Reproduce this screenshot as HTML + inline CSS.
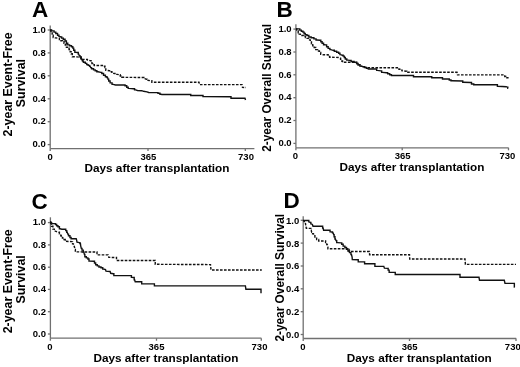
<!DOCTYPE html>
<html><head><meta charset="utf-8"><style>
html,body{margin:0;padding:0;background:#fff;}
svg{display:block;filter:grayscale(1);}
text{font-family:"Liberation Sans",sans-serif;font-weight:bold;fill:#000;}
</style></head><body>
<svg width="520" height="367" viewBox="0 0 520 367">
<rect width="520" height="367" fill="#fff"/>
<line x1="50.2" y1="25.5" x2="50.2" y2="148.6" stroke="#707070" stroke-width="1.3"/>
<line x1="50.2" y1="148.6" x2="254.4" y2="148.6" stroke="#707070" stroke-width="1.3"/>
<line x1="47.7" y1="144.6" x2="50.2" y2="144.6" stroke="#707070" stroke-width="1.3"/>
<text x="45.8" y="147.3" font-size="9.5" text-anchor="end">0.0</text>
<line x1="47.7" y1="121.7" x2="50.2" y2="121.7" stroke="#707070" stroke-width="1.3"/>
<text x="45.8" y="124.4" font-size="9.5" text-anchor="end">0.2</text>
<line x1="47.7" y1="98.8" x2="50.2" y2="98.8" stroke="#707070" stroke-width="1.3"/>
<text x="45.8" y="101.5" font-size="9.5" text-anchor="end">0.4</text>
<line x1="47.7" y1="75.8" x2="50.2" y2="75.8" stroke="#707070" stroke-width="1.3"/>
<text x="45.8" y="78.6" font-size="9.5" text-anchor="end">0.6</text>
<line x1="47.7" y1="52.9" x2="50.2" y2="52.9" stroke="#707070" stroke-width="1.3"/>
<text x="45.8" y="55.7" font-size="9.5" text-anchor="end">0.8</text>
<line x1="47.7" y1="30.0" x2="50.2" y2="30.0" stroke="#707070" stroke-width="1.3"/>
<text x="45.8" y="32.8" font-size="9.5" text-anchor="end">1.0</text>
<line x1="50.2" y1="148.6" x2="50.2" y2="151.1" stroke="#707070" stroke-width="1.3"/>
<text x="50.1" y="159.5" font-size="9.5" text-anchor="middle">0</text>
<line x1="148.0" y1="148.6" x2="148.0" y2="151.1" stroke="#707070" stroke-width="1.3"/>
<text x="148.4" y="159.5" font-size="9.5" text-anchor="middle">365</text>
<line x1="245.3" y1="148.6" x2="245.3" y2="151.1" stroke="#707070" stroke-width="1.3"/>
<text x="246.0" y="159.5" font-size="9.5" text-anchor="middle">730</text>
<line x1="295.9" y1="24.3" x2="295.9" y2="147.8" stroke="#707070" stroke-width="1.3"/>
<line x1="295.9" y1="147.8" x2="508.6" y2="147.8" stroke="#707070" stroke-width="1.3"/>
<line x1="293.4" y1="143.4" x2="295.9" y2="143.4" stroke="#707070" stroke-width="1.3"/>
<text x="291.6" y="146.2" font-size="9.5" text-anchor="end">0.0</text>
<line x1="293.4" y1="120.5" x2="295.9" y2="120.5" stroke="#707070" stroke-width="1.3"/>
<text x="291.6" y="123.3" font-size="9.5" text-anchor="end">0.2</text>
<line x1="293.4" y1="97.7" x2="295.9" y2="97.7" stroke="#707070" stroke-width="1.3"/>
<text x="291.6" y="100.4" font-size="9.5" text-anchor="end">0.4</text>
<line x1="293.4" y1="74.8" x2="295.9" y2="74.8" stroke="#707070" stroke-width="1.3"/>
<text x="291.6" y="77.6" font-size="9.5" text-anchor="end">0.6</text>
<line x1="293.4" y1="52.0" x2="295.9" y2="52.0" stroke="#707070" stroke-width="1.3"/>
<text x="291.6" y="54.7" font-size="9.5" text-anchor="end">0.8</text>
<line x1="293.4" y1="29.1" x2="295.9" y2="29.1" stroke="#707070" stroke-width="1.3"/>
<text x="291.6" y="31.9" font-size="9.5" text-anchor="end">1.0</text>
<line x1="295.9" y1="147.8" x2="295.9" y2="150.3" stroke="#707070" stroke-width="1.3"/>
<text x="295.5" y="158.6" font-size="9.5" text-anchor="middle">0</text>
<line x1="402.2" y1="147.8" x2="402.2" y2="150.3" stroke="#707070" stroke-width="1.3"/>
<text x="402.7" y="158.6" font-size="9.5" text-anchor="middle">365</text>
<line x1="508.5" y1="147.8" x2="508.5" y2="150.3" stroke="#707070" stroke-width="1.3"/>
<text x="507.4" y="158.6" font-size="9.5" text-anchor="middle">730</text>
<line x1="50.4" y1="217.3" x2="50.4" y2="338.2" stroke="#707070" stroke-width="1.3"/>
<line x1="50.4" y1="338.2" x2="261.4" y2="338.2" stroke="#707070" stroke-width="1.3"/>
<line x1="47.9" y1="334.0" x2="50.4" y2="334.0" stroke="#707070" stroke-width="1.3"/>
<text x="46.0" y="336.8" font-size="9.5" text-anchor="end">0.0</text>
<line x1="47.9" y1="311.7" x2="50.4" y2="311.7" stroke="#707070" stroke-width="1.3"/>
<text x="46.0" y="314.5" font-size="9.5" text-anchor="end">0.2</text>
<line x1="47.9" y1="289.4" x2="50.4" y2="289.4" stroke="#707070" stroke-width="1.3"/>
<text x="46.0" y="292.2" font-size="9.5" text-anchor="end">0.4</text>
<line x1="47.9" y1="267.2" x2="50.4" y2="267.2" stroke="#707070" stroke-width="1.3"/>
<text x="46.0" y="269.9" font-size="9.5" text-anchor="end">0.6</text>
<line x1="47.9" y1="244.9" x2="50.4" y2="244.9" stroke="#707070" stroke-width="1.3"/>
<text x="46.0" y="247.6" font-size="9.5" text-anchor="end">0.8</text>
<line x1="47.9" y1="222.6" x2="50.4" y2="222.6" stroke="#707070" stroke-width="1.3"/>
<text x="46.0" y="225.3" font-size="9.5" text-anchor="end">1.0</text>
<line x1="50.4" y1="338.2" x2="50.4" y2="340.7" stroke="#707070" stroke-width="1.3"/>
<text x="49.8" y="350.1" font-size="9.5" text-anchor="middle">0</text>
<line x1="156.5" y1="338.2" x2="156.5" y2="340.7" stroke="#707070" stroke-width="1.3"/>
<text x="156.5" y="350.1" font-size="9.5" text-anchor="middle">365</text>
<line x1="261.3" y1="338.2" x2="261.3" y2="340.7" stroke="#707070" stroke-width="1.3"/>
<text x="259.5" y="350.1" font-size="9.5" text-anchor="middle">730</text>
<line x1="303.2" y1="216.3" x2="303.2" y2="338.5" stroke="#707070" stroke-width="1.3"/>
<line x1="303.2" y1="338.5" x2="516.2" y2="338.5" stroke="#707070" stroke-width="1.3"/>
<line x1="300.7" y1="334.5" x2="303.2" y2="334.5" stroke="#707070" stroke-width="1.3"/>
<text x="299.3" y="337.9" font-size="9.5" text-anchor="end">0.0</text>
<line x1="300.7" y1="311.7" x2="303.2" y2="311.7" stroke="#707070" stroke-width="1.3"/>
<text x="299.3" y="315.0" font-size="9.5" text-anchor="end">0.2</text>
<line x1="300.7" y1="288.8" x2="303.2" y2="288.8" stroke="#707070" stroke-width="1.3"/>
<text x="299.3" y="292.2" font-size="9.5" text-anchor="end">0.4</text>
<line x1="300.7" y1="266.0" x2="303.2" y2="266.0" stroke="#707070" stroke-width="1.3"/>
<text x="299.3" y="269.3" font-size="9.5" text-anchor="end">0.6</text>
<line x1="300.7" y1="243.1" x2="303.2" y2="243.1" stroke="#707070" stroke-width="1.3"/>
<text x="299.3" y="246.5" font-size="9.5" text-anchor="end">0.8</text>
<line x1="300.7" y1="220.3" x2="303.2" y2="220.3" stroke="#707070" stroke-width="1.3"/>
<text x="299.3" y="223.7" font-size="9.5" text-anchor="end">1.0</text>
<line x1="303.2" y1="338.5" x2="303.2" y2="341.0" stroke="#707070" stroke-width="1.3"/>
<text x="303.0" y="349.9" font-size="9.5" text-anchor="middle">0</text>
<line x1="409.5" y1="338.5" x2="409.5" y2="341.0" stroke="#707070" stroke-width="1.3"/>
<text x="409.6" y="349.9" font-size="9.5" text-anchor="middle">365</text>
<line x1="516.0" y1="338.5" x2="516.0" y2="341.0" stroke="#707070" stroke-width="1.3"/>
<text x="512.8" y="349.9" font-size="9.5" text-anchor="middle">730</text>
<text x="32.1" y="17.2" font-size="22.5" text-anchor="start">A</text>
<text x="276.4" y="17.2" font-size="22.5" text-anchor="start">B</text>
<text x="31.4" y="208.6" font-size="22.5" text-anchor="start">C</text>
<text x="283.4" y="208.3" font-size="22.5" text-anchor="start">D</text>
<text x="157.0" y="171.8" font-size="11.75" text-anchor="middle">Days after transplantation</text>
<text x="411.9" y="170.9" font-size="11.75" text-anchor="middle">Days after transplantation</text>
<text x="165.9" y="362.2" font-size="11.75" text-anchor="middle">Days after transplantation</text>
<text x="419.3" y="361.9" font-size="11.75" text-anchor="middle">Days after transplantation</text>
<text transform="translate(11.5 136.4) rotate(-90)" font-size="12.4">2-year Event-Free</text>
<text transform="translate(24.9 107.2) rotate(-90)" font-size="12.4">Survival</text>
<text transform="translate(11.5 333.3) rotate(-90)" font-size="12.4">2-year Event-Free</text>
<text transform="translate(24.9 303.5) rotate(-90)" font-size="12.4">Survival</text>
<text transform="translate(271.3 151.8) rotate(-90)" font-size="11.85">2-year Overall Survival</text>
<text transform="translate(283.6 341.6) rotate(-90)" font-size="11.85">2-year Overall Survival</text>
<path d="M50.0 30.0 L51.60 30.00 L51.60 30.90 L53.20 30.90 L54.05 30.90 L54.05 32.10 L54.90 32.10 L55.80 32.10 L55.80 33.50 L56.70 33.50 L57.55 33.50 L57.55 35.20 L58.40 35.20 L58.95 35.20 L58.95 36.40 L59.50 36.40 L61.0 37.0 L61.70 37.00 L61.70 38.10 L62.40 38.10 L63.30 38.10 L63.30 39.30 L64.20 39.30 L65.05 39.30 L65.05 41.00 L65.90 41.00 L66.40 41.00 L66.40 43.30 L66.90 43.30 L67.75 43.30 L67.75 44.90 L68.60 44.90 L69.60 44.90 L69.60 45.80 L70.60 45.80 L71.50 45.80 L71.50 46.70 L72.40 46.70 L72.80 46.70 L72.80 48.10 L73.20 48.10 L73.70 48.10 L73.70 50.30 L74.20 50.30 L74.85 50.30 L74.85 52.20 L75.50 52.20 L77.8 52.5 L78.25 52.50 L78.25 54.10 L78.70 54.10 L79.3 55.7 L80.00 55.70 L80.00 57.00 L80.70 57.00 L81.25 57.00 L81.25 59.00 L81.80 59.00 L82.4 61.0 L83.40 61.00 L83.40 62.20 L84.40 62.20 L85.30 62.20 L85.30 63.40 L86.20 63.40 L86.75 63.40 L86.75 64.60 L87.30 64.60 L88.15 64.60 L88.15 65.40 L89.00 65.40 L89.55 65.40 L89.55 66.30 L90.10 66.30 L90.7 67.6 L91.55 67.60 L91.55 68.80 L92.40 68.80 L93.55 68.80 L93.55 69.90 L94.70 69.90 L95.20 69.90 L95.20 70.70 L95.70 70.70 L96.85 70.70 L96.85 71.80 L98.00 71.80 L100.9 72.4 L101.80 72.40 L101.80 73.50 L102.70 73.50 L103.55 73.50 L103.55 75.30 L104.40 75.30 L105.40 75.30 L105.40 76.70 L106.40 76.70 L107.00 76.70 L107.00 77.60 L107.60 77.60 L108.1 79.3 L108.70 79.30 L108.70 81.00 L109.30 81.00 L110.10 81.00 L110.10 82.90 L110.90 82.90 L112.05 82.90 L112.05 84.40 L113.20 84.40 L115.5 85.0 L124.2 85.0 L125.05 85.00 L125.05 85.80 L125.90 85.80 L126.75 85.80 L126.75 87.30 L127.60 87.30 L128.20 87.30 L128.20 88.40 L128.80 88.40 L133.4 88.7 L134.55 88.70 L134.55 89.90 L135.70 89.90 L137.4 90.5 L141.8 90.7 L143.5 91.3 L147.0 91.9 L148.7 92.5 L156.8 92.6 L157.95 92.60 L157.95 93.30 L159.10 93.30 L159.95 93.30 L159.95 94.20 L160.80 94.20 L162.0 94.5 L190.0 94.5 L190.75 94.50 L190.75 95.50 L191.50 95.50 L202.0 95.5 L203.00 95.50 L203.00 96.60 L204.00 96.60 L230.5 96.8 L231.00 96.80 L231.00 98.20 L231.50 98.20 L245.0 98.2 L245.5 100.0" fill="none" stroke="#111" stroke-width="1.4"/>
<path d="M50.0 30.3 L50.90 30.30 L50.90 32.90 L51.80 32.90 L52.20 32.90 L52.20 35.20 L52.60 35.20 L53.20 35.20 L53.20 37.50 L53.80 37.50 L54.9 37.8 L57.5 38.1 L58.7 38.2 L59.40 38.20 L59.40 39.60 L60.10 39.60 L60.95 39.60 L60.95 40.70 L61.80 40.70 L62.55 40.70 L62.55 41.60 L63.30 41.60 L64.00 41.60 L64.00 43.30 L64.70 43.30 L65.30 43.30 L65.30 45.00 L65.90 45.00 L66.40 45.00 L66.40 47.20 L66.90 47.20 L67.60 47.20 L67.60 48.10 L68.30 48.10 L69.05 48.10 L69.05 49.50 L69.80 49.50 L70.20 49.50 L70.20 51.80 L70.60 51.80 L71.15 51.80 L71.15 53.80 L71.70 53.80 L72.30 53.80 L72.30 56.70 L72.90 56.70 L76.9 56.9 L80.1 57.2 L80.80 57.20 L80.80 58.50 L81.50 58.50 L82.40 58.50 L82.40 59.40 L83.30 59.40 L86.2 59.4 L87.40 59.40 L87.40 60.10 L88.60 60.10 L90.5 60.8 L91.05 60.80 L91.05 61.80 L91.60 61.80 L91.95 61.80 L91.95 63.60 L92.30 63.60 L92.80 63.60 L92.80 64.70 L93.30 64.70 L94.30 64.70 L94.30 65.50 L95.30 65.50 L102.8 65.5 L103.65 65.50 L103.65 66.20 L104.50 66.20 L104.95 66.20 L104.95 67.50 L105.40 67.50 L105.80 67.50 L105.80 70.30 L106.20 70.30 L109.6 70.7 L110.45 70.70 L110.45 71.80 L111.30 71.80 L111.90 71.80 L111.90 73.30 L112.50 73.30 L114.8 73.5 L115.95 73.50 L115.95 74.40 L117.10 74.40 L119.5 74.8 L120.25 74.80 L120.25 76.00 L121.00 76.00 L121.70 76.00 L121.70 77.30 L122.40 77.30 L142.9 77.5 L143.80 77.50 L143.80 78.60 L144.70 78.60 L146.4 79.2 L146.95 79.20 L146.95 80.30 L147.50 80.30 L151.0 80.8 L151.85 80.80 L151.85 82.20 L152.70 82.20 L199.0 82.2 L199.5 84.6 L242.0 84.6 L242.5 87.4 L246.0 87.5" fill="none" stroke="#111" stroke-width="1.4" stroke-dasharray="2.6 1.4"/>
<path d="M295.9 28.9 L299.1 28.9 L299.80 28.90 L299.80 30.10 L300.50 30.10 L301.35 30.10 L301.35 31.20 L302.20 31.20 L302.95 31.20 L302.95 32.10 L303.70 32.10 L304.10 32.10 L304.10 33.50 L304.50 33.50 L305.25 33.50 L305.25 34.70 L306.00 34.70 L307.00 34.70 L307.00 35.50 L308.00 35.50 L308.85 35.50 L308.85 37.00 L309.70 37.00 L311.15 37.00 L311.15 37.80 L312.60 37.80 L313.90 37.80 L313.90 38.90 L315.20 38.90 L316.05 38.90 L316.05 40.00 L316.90 40.00 L320.1 40.3 L320.80 40.30 L320.80 41.80 L321.50 41.80 L322.10 41.80 L322.10 43.20 L322.70 43.20 L323.55 43.20 L323.55 44.70 L324.40 44.70 L325.9 44.9 L326.60 44.90 L326.60 46.70 L327.30 46.70 L328.15 46.70 L328.15 48.40 L329.00 48.40 L329.90 48.40 L329.90 49.60 L330.80 49.60 L333.1 50.3 L334.30 50.30 L334.30 51.30 L335.50 51.30 L336.65 51.30 L336.65 52.30 L337.80 52.30 L338.65 52.30 L338.65 53.20 L339.50 53.20 L339.95 53.20 L339.95 54.60 L340.40 54.60 L342.4 55.2 L343.15 55.20 L343.15 56.10 L343.90 56.10 L344.30 56.10 L344.30 57.50 L344.70 57.50 L345.30 57.50 L345.30 59.00 L345.90 59.00 L346.75 59.00 L346.75 60.10 L347.60 60.10 L349.9 60.4 L351.10 60.40 L351.10 61.50 L352.30 61.50 L354.05 61.50 L354.05 62.30 L355.80 62.30 L356.65 62.30 L356.65 63.50 L357.50 63.50 L358.10 63.50 L358.10 64.70 L358.70 64.70 L359.85 64.70 L359.85 66.10 L361.00 66.10 L363.3 66.7 L364.45 66.70 L364.45 67.50 L365.60 67.50 L366.45 67.50 L366.45 68.40 L367.30 68.40 L368.5 69.0 L376.0 69.0 L376.65 69.00 L376.65 70.40 L377.30 70.40 L380.8 70.9 L381.65 70.90 L381.65 72.40 L382.50 72.40 L386.5 72.7 L387.65 72.70 L387.65 73.80 L388.80 73.80 L389.70 73.80 L389.70 74.70 L390.60 74.70 L391.45 74.70 L391.45 75.50 L392.30 75.50 L413.0 75.5 L413.50 75.50 L413.50 76.80 L414.00 76.80 L431.0 76.8 L431.75 76.80 L431.75 77.80 L432.50 77.80 L442.0 77.8 L442.50 77.80 L442.50 79.00 L443.00 79.00 L448.5 79.0 L449.25 79.00 L449.25 80.00 L450.00 80.00 L451.00 80.00 L451.00 80.80 L452.00 80.80 L462.0 81.0 L462.75 81.00 L462.75 82.20 L463.50 82.20 L470.5 82.5 L471.50 82.50 L471.50 84.00 L472.50 84.00 L473.75 84.00 L473.75 84.80 L475.00 84.80 L496.8 84.8 L497.40 84.80 L497.40 86.30 L498.00 86.30 L506.2 86.7 L507.4 87.1 L507.80 87.10 L507.80 88.30 L508.20 88.30" fill="none" stroke="#111" stroke-width="1.4"/>
<path d="M295.9 28.9 L296.75 28.90 L296.75 30.90 L297.60 30.90 L298.20 30.90 L298.20 32.70 L298.80 32.70 L299.20 32.70 L299.20 34.10 L299.60 34.10 L300.35 34.10 L300.35 35.50 L301.10 35.50 L302.8 35.5 L303.65 35.50 L303.65 36.40 L304.50 36.40 L305.40 36.40 L305.40 37.60 L306.30 37.60 L307.15 37.60 L307.15 38.40 L308.00 38.40 L308.85 38.40 L308.85 39.90 L309.70 39.90 L310.30 39.90 L310.30 41.30 L310.90 41.30 L311.45 41.30 L311.45 43.80 L312.00 43.80 L312.75 43.80 L312.75 45.80 L313.50 45.80 L314.20 45.80 L314.20 47.50 L314.90 47.50 L315.75 47.50 L315.75 49.60 L316.60 49.60 L317.65 49.60 L317.65 51.00 L318.70 51.00 L319.40 51.00 L319.40 52.40 L320.10 52.40 L320.70 52.40 L320.70 54.20 L321.30 54.20 L323.3 54.8 L327.3 54.8 L328.15 54.80 L328.15 56.50 L329.00 56.50 L329.65 56.50 L329.65 57.20 L330.30 57.20 L338.4 57.5 L339.8 58.1 L340.55 58.10 L340.55 59.30 L341.30 59.30 L341.70 59.30 L341.70 61.00 L342.10 61.00 L342.55 61.00 L342.55 62.20 L343.00 62.20 L352.3 62.2 L355.8 62.5 L356.65 62.50 L356.65 63.60 L357.50 63.60 L358.10 63.60 L358.10 64.80 L358.70 64.80 L359.85 64.80 L359.85 66.10 L361.00 66.10 L363.3 66.7 L364.45 66.70 L364.45 67.40 L365.60 67.40 L367.3 67.7 L398.1 67.7 L398.95 67.70 L398.95 69.20 L399.80 69.20 L400.65 69.20 L400.65 70.10 L401.50 70.10 L402.10 70.10 L402.10 70.90 L402.70 70.90 L406.0 71.2 L406.75 71.20 L406.75 72.30 L407.50 72.30 L457.0 72.3 L457.5 74.9 L504.1 74.9 L504.75 74.90 L504.75 76.50 L505.40 76.50 L505.80 76.50 L505.80 77.70 L506.20 77.70 L508.6 77.7" fill="none" stroke="#111" stroke-width="1.4" stroke-dasharray="2.6 1.4"/>
<path d="M50.3 221.6 L50.75 221.60 L50.75 223.60 L51.20 223.60 L54.9 223.6 L55.50 223.60 L55.50 224.50 L56.10 224.50 L56.65 224.50 L56.65 225.70 L57.20 225.70 L57.95 225.70 L57.95 226.80 L58.70 226.80 L59.40 226.80 L59.40 228.80 L60.10 228.80 L61.8 229.2 L65.2 229.2 L65.75 229.20 L65.75 230.60 L66.30 230.60 L66.75 230.60 L66.75 232.30 L67.20 232.30 L67.8 234.1 L68.50 234.10 L68.50 235.80 L69.20 235.80 L69.95 235.80 L69.95 237.50 L70.70 237.50 L71.10 237.50 L71.10 238.70 L71.50 238.70 L76.2 238.7 L76.7 240.4 L77.0 242.1 L79.4 242.6 L79.90 242.60 L79.90 243.50 L80.40 243.50 L80.7 245.8 L81.3 248.4 L82.00 248.40 L82.00 250.10 L82.70 250.10 L83.25 250.10 L83.25 252.10 L83.80 252.10 L84.4 254.4 L84.85 254.40 L84.85 256.70 L85.30 256.70 L86.30 256.70 L86.30 257.90 L87.30 257.90 L87.90 257.90 L87.90 259.00 L88.50 259.00 L89.00 259.00 L89.00 261.00 L89.50 261.00 L94.1 261.3 L94.50 261.30 L94.50 263.00 L94.90 263.00 L95.65 263.00 L95.65 264.70 L96.40 264.70 L97.25 264.70 L97.25 265.90 L98.10 265.90 L98.95 265.90 L98.95 267.00 L99.80 267.00 L101.00 267.00 L101.00 267.80 L102.20 267.80 L102.75 267.80 L102.75 269.00 L103.30 269.00 L105.5 269.5 L106.0 271.2 L110.1 271.5 L110.7 273.3 L113.3 273.8 L113.85 273.80 L113.85 275.60 L114.40 275.60 L131.0 275.6 L131.40 275.60 L131.40 277.30 L131.80 277.30 L133.8 277.5 L134.20 277.50 L134.20 279.80 L134.60 279.80 L135.2 281.7 L141.3 281.8 L141.70 281.80 L141.70 283.90 L142.10 283.90 L154.0 283.9 L154.40 283.90 L154.40 285.90 L154.80 285.90 L245.4 285.9 L245.9 289.3 L261.0 289.3 L261.0 293.3" fill="none" stroke="#111" stroke-width="1.4"/>
<path d="M50.9 222.8 L51.60 222.80 L51.60 226.20 L52.30 226.20 L52.90 226.20 L52.90 229.10 L53.50 229.10 L54.35 229.10 L54.35 231.10 L55.20 231.10 L56.7 231.7 L58.7 232.3 L59.40 232.30 L59.40 233.70 L60.10 233.70 L60.8 235.5 L61.25 235.50 L61.25 236.40 L61.70 236.40 L62.45 236.40 L62.45 238.10 L63.20 238.10 L63.90 238.10 L63.90 239.50 L64.60 239.50 L65.20 239.50 L65.20 241.30 L65.80 241.30 L72.1 241.6 L72.55 241.60 L72.55 243.90 L73.00 243.90 L73.40 243.90 L73.40 245.30 L73.80 245.30 L74.4 246.8 L74.9 249.5 L75.35 249.50 L75.35 251.90 L75.80 251.90 L97.0 252.0 L97.0 254.9 L108.2 254.9 L108.8 257.4 L116.0 257.5 L116.50 257.50 L116.50 260.50 L117.00 260.50 L154.5 260.5 L155.25 260.50 L155.25 264.30 L156.00 264.30 L210.5 264.6 L211.0 270.0 L261.8 270.0" fill="none" stroke="#111" stroke-width="1.4" stroke-dasharray="2.6 1.4"/>
<path d="M302.9 220.5 L308.4 220.5 L308.80 220.50 L308.80 221.90 L309.20 221.90 L310.4 222.5 L310.85 222.50 L310.85 223.90 L311.30 223.90 L312.4 224.5 L313.0 226.3 L322.2 226.3 L322.65 226.30 L322.65 228.00 L323.10 228.00 L323.6 230.2 L329.6 230.3 L330.05 230.30 L330.05 231.80 L330.50 231.80 L331.9 232.0 L332.50 232.00 L332.50 232.90 L333.10 232.90 L333.7 234.6 L334.10 234.60 L334.10 236.70 L334.50 236.70 L334.95 236.70 L334.95 239.00 L335.40 239.00 L336.0 240.6 L336.70 240.60 L336.70 242.60 L337.40 242.60 L341.2 242.9 L341.75 242.90 L341.75 244.30 L342.30 244.30 L343.15 244.30 L343.15 246.10 L344.00 246.10 L344.90 246.10 L344.90 247.50 L345.80 247.50 L346.50 247.50 L346.50 249.30 L347.20 249.30 L347.95 249.30 L347.95 251.00 L348.70 251.00 L349.55 251.00 L349.55 252.60 L350.40 252.60 L350.95 252.60 L350.95 254.60 L351.50 254.60 L352.1 257.0 L352.3 259.6 L357.8 259.8 L358.25 259.80 L358.25 261.70 L358.70 261.70 L364.2 261.9 L364.60 261.90 L364.60 263.70 L365.00 263.70 L374.3 263.8 L374.90 263.80 L374.90 266.20 L375.50 266.20 L383.8 266.4 L384.4 268.2 L387.6 268.4 L388.15 268.40 L388.15 270.10 L388.70 270.10 L389.15 270.10 L389.15 272.20 L389.60 272.20 L394.8 272.4 L395.25 272.40 L395.25 274.50 L395.70 274.50 L459.5 274.5 L460.00 274.50 L460.00 277.30 L460.50 277.30 L479.0 277.3 L479.5 280.3 L504.3 280.3 L505.0 283.4 L513.9 283.4 L514.35 283.40 L514.35 287.00 L514.80 287.00" fill="none" stroke="#111" stroke-width="1.4"/>
<path d="M303.2 220.8 L304.20 220.80 L304.20 221.60 L305.20 221.60 L305.5 223.7 L305.8 225.7 L306.3 228.3 L310.4 228.4 L310.80 228.40 L310.80 230.30 L311.20 230.30 L311.7 232.3 L312.60 232.30 L312.60 233.80 L313.50 233.80 L314.0 235.8 L314.90 235.80 L314.90 238.10 L315.80 238.10 L316.65 238.10 L316.65 239.50 L317.50 239.50 L318.65 239.50 L318.65 241.00 L319.80 241.00 L325.0 241.0 L325.60 241.00 L325.60 242.60 L326.20 242.60 L326.75 242.60 L326.75 244.60 L327.30 244.60 L327.9 246.7 L327.9 248.7 L344.6 248.7 L346.9 248.7 L347.70 248.70 L347.70 249.50 L348.50 249.50 L349.10 249.50 L349.10 251.50 L349.70 251.50 L369.4 251.5 L369.6 254.7 L409.5 254.7 L409.7 259.0 L465.0 259.0 L465.4 264.4 L516.0 264.4" fill="none" stroke="#111" stroke-width="1.4" stroke-dasharray="2.6 1.4"/>
</svg>
</body></html>
